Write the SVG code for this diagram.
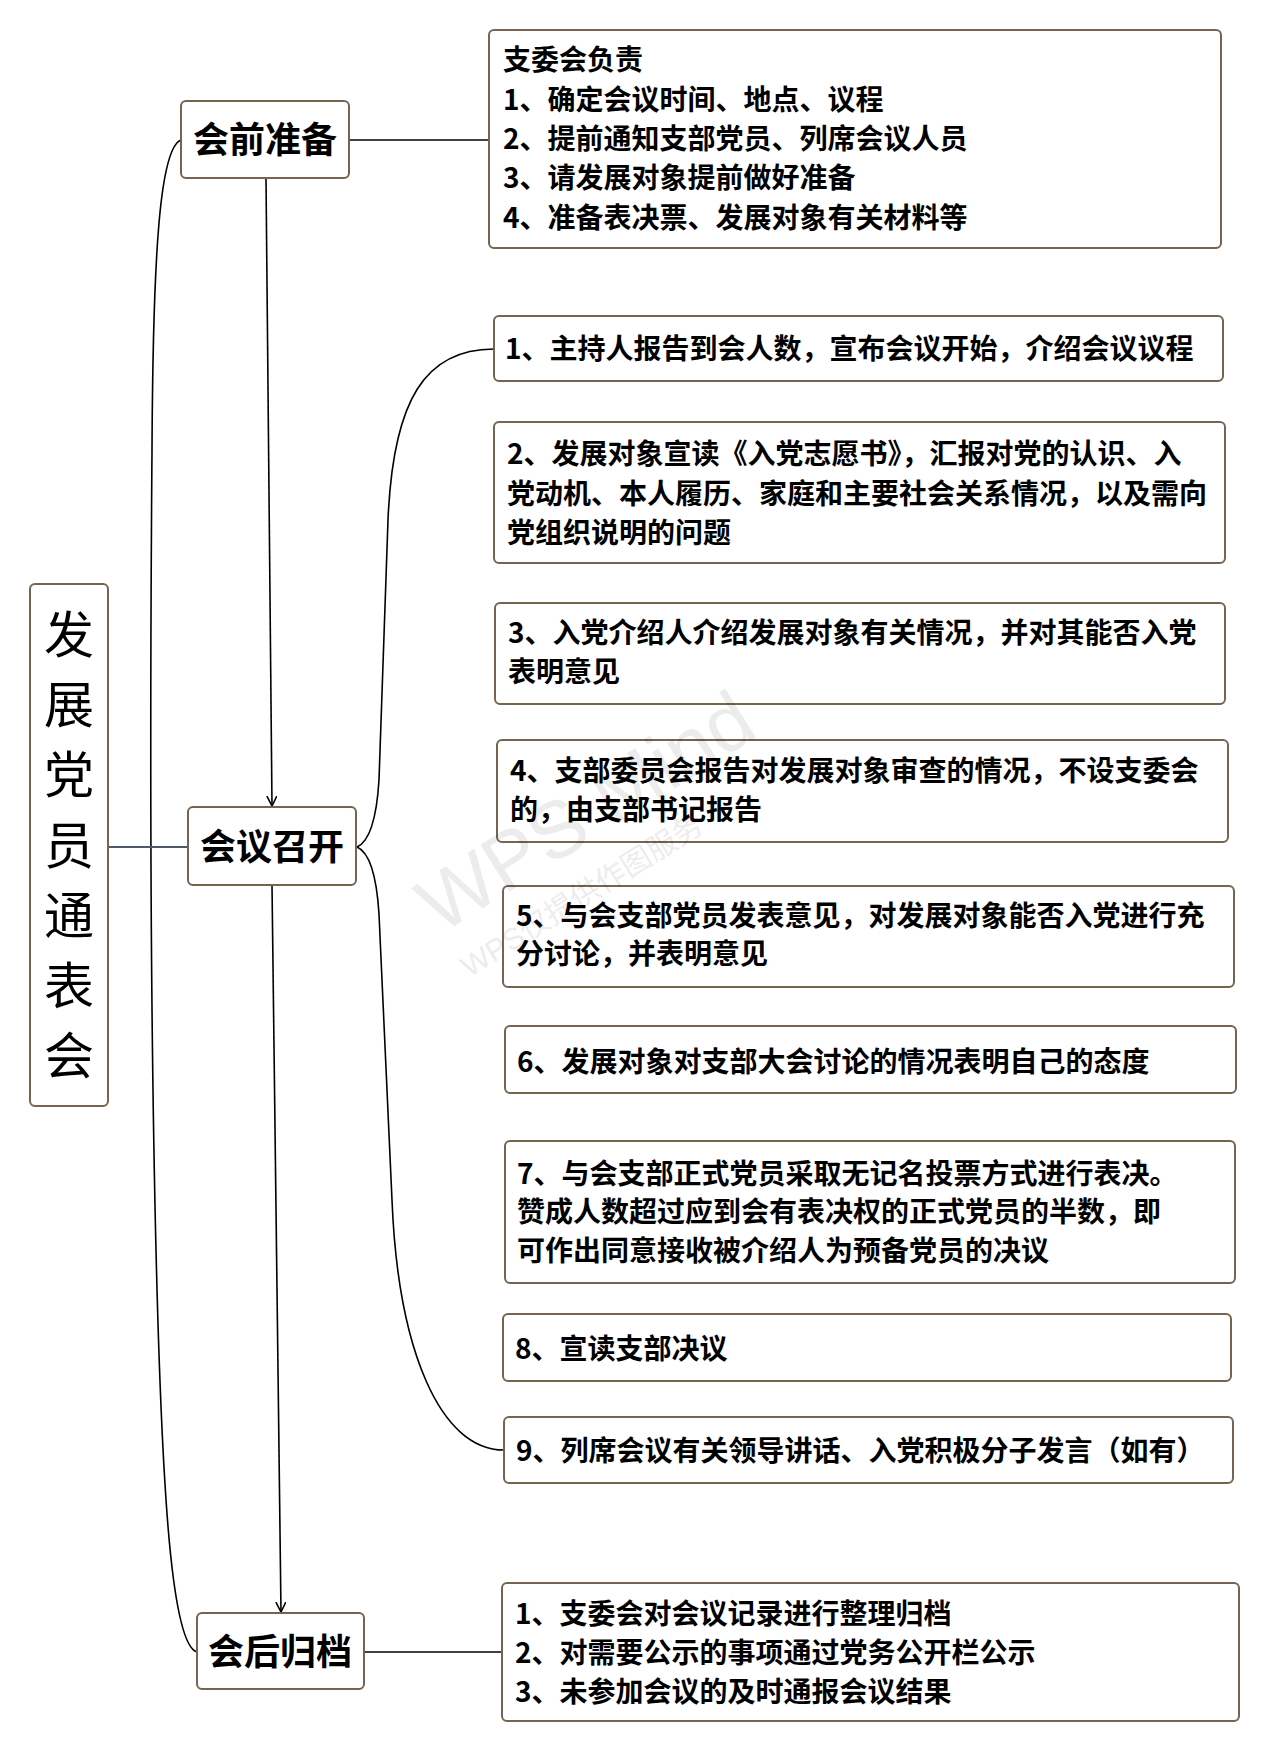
<svg xmlns="http://www.w3.org/2000/svg" width="1269" height="1752" viewBox="0 0 1269 1752">
<style>
.box{fill:#ffffff;stroke:#756450;stroke-width:2}
.t{font-family:"Noto Sans CJK SC","Noto Sans",sans-serif;font-weight:700;font-size:28px;fill:#000}
.h{font-family:"Noto Sans CJK SC","Noto Sans",sans-serif;font-weight:700;font-size:36px;fill:#000;text-anchor:middle}
.r{font-family:"Noto Sans CJK SC","Noto Sans",sans-serif;font-weight:400;font-size:50px;fill:#000;text-anchor:middle}
.c{fill:none;stroke:#000;stroke-width:1.6}
.wm{font-family:"Liberation Sans","Noto Sans CJK SC",sans-serif;fill:#000;opacity:0.07}
</style>
<defs>
<marker id="arr" markerUnits="userSpaceOnUse" markerWidth="12" markerHeight="12" refX="10" refY="5" orient="auto">
<path d="M0,0 L10,5 L0,10" fill="none" stroke="#000" stroke-width="1.6"/>
</marker>
</defs>
<rect width="1269" height="1752" fill="#ffffff"/>
<g id="connectors">
<path class="c" d="M181,140 C160,148 153,250 152,450 C150,700 150,1000 156,1250 C162,1500 172,1645 197,1652"/>
<path d="M108,847 H188" fill="none" stroke="#4f5a66" stroke-width="2"/>
<path class="c" d="M349,140 H489"/>
<path class="c" d="M364,1652 H502"/>
<path class="c" d="M266,178 L272,806" marker-end="url(#arr)"/>
<path class="c" d="M272,885 L281,1612" marker-end="url(#arr)"/>
<path class="c" d="M357,847 C371,841 377,812 379,780 L388,520 C393,400 425,349 494,349"/>
<path class="c" d="M357,847 C371,853 377,882 379,914 L392,1200 C398,1350 440,1450 504,1450"/>
</g>
<g id="root">
<rect class="box" x="30" y="584" width="78" height="522" rx="5"/>
<text class="r" x="69" y="653">发</text>
<text class="r" x="69" y="723">展</text>
<text class="r" x="69" y="793">党</text>
<text class="r" x="69" y="864">员</text>
<text class="r" x="69" y="934">通</text>
<text class="r" x="69" y="1004">表</text>
<text class="r" x="69" y="1074">会</text>
</g>
<g id="pre">
<rect class="box" x="181" y="101" width="168" height="77" rx="5"/>
<text class="h" x="265" y="153">会前准备</text>
</g>
<g id="meet">
<rect class="box" x="188" y="807" width="168" height="78" rx="5"/>
<text class="h" x="272" y="860">会议召开</text>
</g>
<g id="post">
<rect class="box" x="197" y="1613" width="167" height="76" rx="5"/>
<text class="h" x="280" y="1665">会后归档</text>
</g>
<g id="pre-detail">
<rect class="box" x="489" y="30" width="732" height="218" rx="5"/>
<text class="t" x="503" y="70">支委会负责</text>
<text class="t" x="503" y="110">1、确定会议时间、地点、议程</text>
<text class="t" x="503" y="149">2、提前通知支部党员、列席会议人员</text>
<text class="t" x="503" y="188">3、请发展对象提前做好准备</text>
<text class="t" x="503" y="228">4、准备表决票、发展对象有关材料等</text>
</g>
<g id="step1">
<rect class="box" x="494" y="316" width="729" height="65" rx="5"/>
<text class="t" x="505" y="359">1、主持人报告到会人数，宣布会议开始，介绍会议议程</text>
</g>
<g id="step2">
<rect class="box" x="494" y="422" width="731" height="141" rx="5"/>
<text class="t" x="507" y="464">2、发展对象宣读《入党志愿书》，汇报对党的认识、入</text>
<text class="t" x="507" y="504">党动机、本人履历、家庭和主要社会关系情况，以及需向</text>
<text class="t" x="507" y="543">党组织说明的问题</text>
</g>
<g id="step3">
<rect class="box" x="495" y="603" width="730" height="101" rx="5"/>
<text class="t" x="508" y="643">3、入党介绍人介绍发展对象有关情况，并对其能否入党</text>
<text class="t" x="508" y="682">表明意见</text>
</g>
<g id="step4">
<rect class="box" x="497" y="740" width="731" height="102" rx="5"/>
<text class="t" x="510" y="781">4、支部委员会报告对发展对象审查的情况，不设支委会</text>
<text class="t" x="510" y="820">的，由支部书记报告</text>
</g>
<g id="step5">
<rect class="box" x="503" y="886" width="731" height="101" rx="5"/>
<text class="t" x="516" y="926">5、与会支部党员发表意见，对发展对象能否入党进行充</text>
<text class="t" x="516" y="964">分讨论，并表明意见</text>
</g>
<g id="step6">
<rect class="box" x="505" y="1026" width="731" height="67" rx="5"/>
<text class="t" x="517" y="1072">6、发展对象对支部大会讨论的情况表明自己的态度</text>
</g>
<g id="step7">
<rect class="box" x="505" y="1141" width="730" height="142" rx="5"/>
<text class="t" x="517" y="1184">7、与会支部正式党员采取无记名投票方式进行表决。</text>
<text class="t" x="517" y="1222">赞成人数超过应到会有表决权的正式党员的半数，即</text>
<text class="t" x="517" y="1261">可作出同意接收被介绍人为预备党员的决议</text>
</g>
<g id="step8">
<rect class="box" x="503" y="1314" width="728" height="67" rx="5"/>
<text class="t" x="515" y="1359">8、宣读支部决议</text>
</g>
<g id="step9">
<rect class="box" x="504" y="1417" width="729" height="66" rx="5"/>
<text class="t" x="516" y="1461">9、列席会议有关领导讲话、入党积极分子发言（如有）</text>
</g>
<g id="post-detail">
<rect class="box" x="502" y="1583" width="737" height="138" rx="5"/>
<text class="t" x="515" y="1624">1、支委会对会议记录进行整理归档</text>
<text class="t" x="515" y="1663">2、对需要公示的事项通过党务公开栏公示</text>
<text class="t" x="515" y="1702">3、未参加会议的及时通报会议结果</text>
</g>
<g id="watermark" transform="translate(440,935) rotate(-32)">
<text class="wm" x="0" y="0" font-size="80">WPS Mind</text>
<text class="wm" x="2" y="52" font-size="30">WPS仅提供作图服务</text>
</g>
</svg>
